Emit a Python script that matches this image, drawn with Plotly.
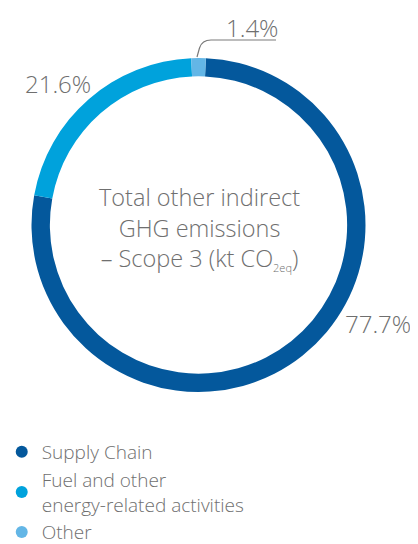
import plotly.graph_objects as go

W, H = 418, 544

categories = ["Supply Chain", "Fuel and other<br>energy-related activities", "Other"]
values = [77.7, 21.6, 1.4]
colors = ["#04589c", "#00a2dc", "#63b6e6"]
center_text = ("Total other indirect<br>GHG emissions<br>– Scope 3 (kt CO"
               "<sub><span style='font-size:11px'>2eq</span></sub>)")

font_family = "Open Sans"
gray = "#6f6f6f"

# pie geometry (pixels)
cx, cy, r = 190.5, 217, 167
rotation = values[2] / 100 * 360 / 2

fig = go.Figure()
fig.add_trace(go.Pie(
    values=values,
    labels=categories,
    marker=dict(colors=colors, line=dict(width=0)),
    hole=0.89,
    sort=False,
    direction="clockwise",
    rotation=rotation,
    textinfo="none",
    hoverinfo="label+percent",
    showlegend=False,
    domain=dict(x=[(cx - r) / W, (cx + r) / W], y=[(H - cy - r) / H, (H - cy + r) / H]),
))

# legend entries as circle markers
for cat, col in zip(categories, colors):
    fig.add_trace(go.Scatter(
        x=[None], y=[None], mode="markers", name=cat,
        marker=dict(symbol="circle", size=15, color=col),
        xaxis="x", yaxis="y",
    ))

ann_font = dict(family=font_family, size=24, color=gray, weight=300)
fig.add_annotation(x=50, y=75, text=f"{values[1]}%", showarrow=False, font=ann_font,
                   xanchor="center", yanchor="middle", xref="x", yref="y")
fig.add_annotation(x=369.5, y=315, text=f"{values[0]}%", showarrow=False, font=ann_font,
                   xanchor="center", yanchor="middle", xref="x", yref="y")
fig.add_annotation(x=273, y=19, text=f"{values[2]}%", showarrow=False, font=ann_font,
                   xanchor="right", yanchor="middle", xref="x", yref="y")
fig.add_annotation(x=cx + 1, y=220, text=center_text, showarrow=False,
                   font=dict(family=font_family, size=23.5, color=gray, weight=300),
                   xanchor="center", yanchor="middle", xref="x", yref="y", align="center")

fig.add_shape(type="path", path="M 189 49 L 191.5 40 Q 194 32 203 32 L 268 32",
              xref="x", yref="y", line=dict(color="#7a7a7a", width=1.2))

fig.update_layout(
    width=W, height=H,
    margin=dict(l=0, r=0, t=0, b=0, autoexpand=False),
    paper_bgcolor="white", plot_bgcolor="rgba(0,0,0,0)",
    xaxis=dict(range=[0, W], visible=False, domain=[0, 1], fixedrange=True),
    yaxis=dict(range=[H, 0], visible=False, domain=[0, 1], fixedrange=True),
    legend=dict(x=-0.015, y=(H - 425) / H, xanchor="left", yanchor="top",
                font=dict(family=font_family, size=19, color=gray, weight=300),
                bgcolor="rgba(0,0,0,0)", tracegroupgap=0, itemsizing="constant"),
    showlegend=True,
)

fig.write_html("out.html")
